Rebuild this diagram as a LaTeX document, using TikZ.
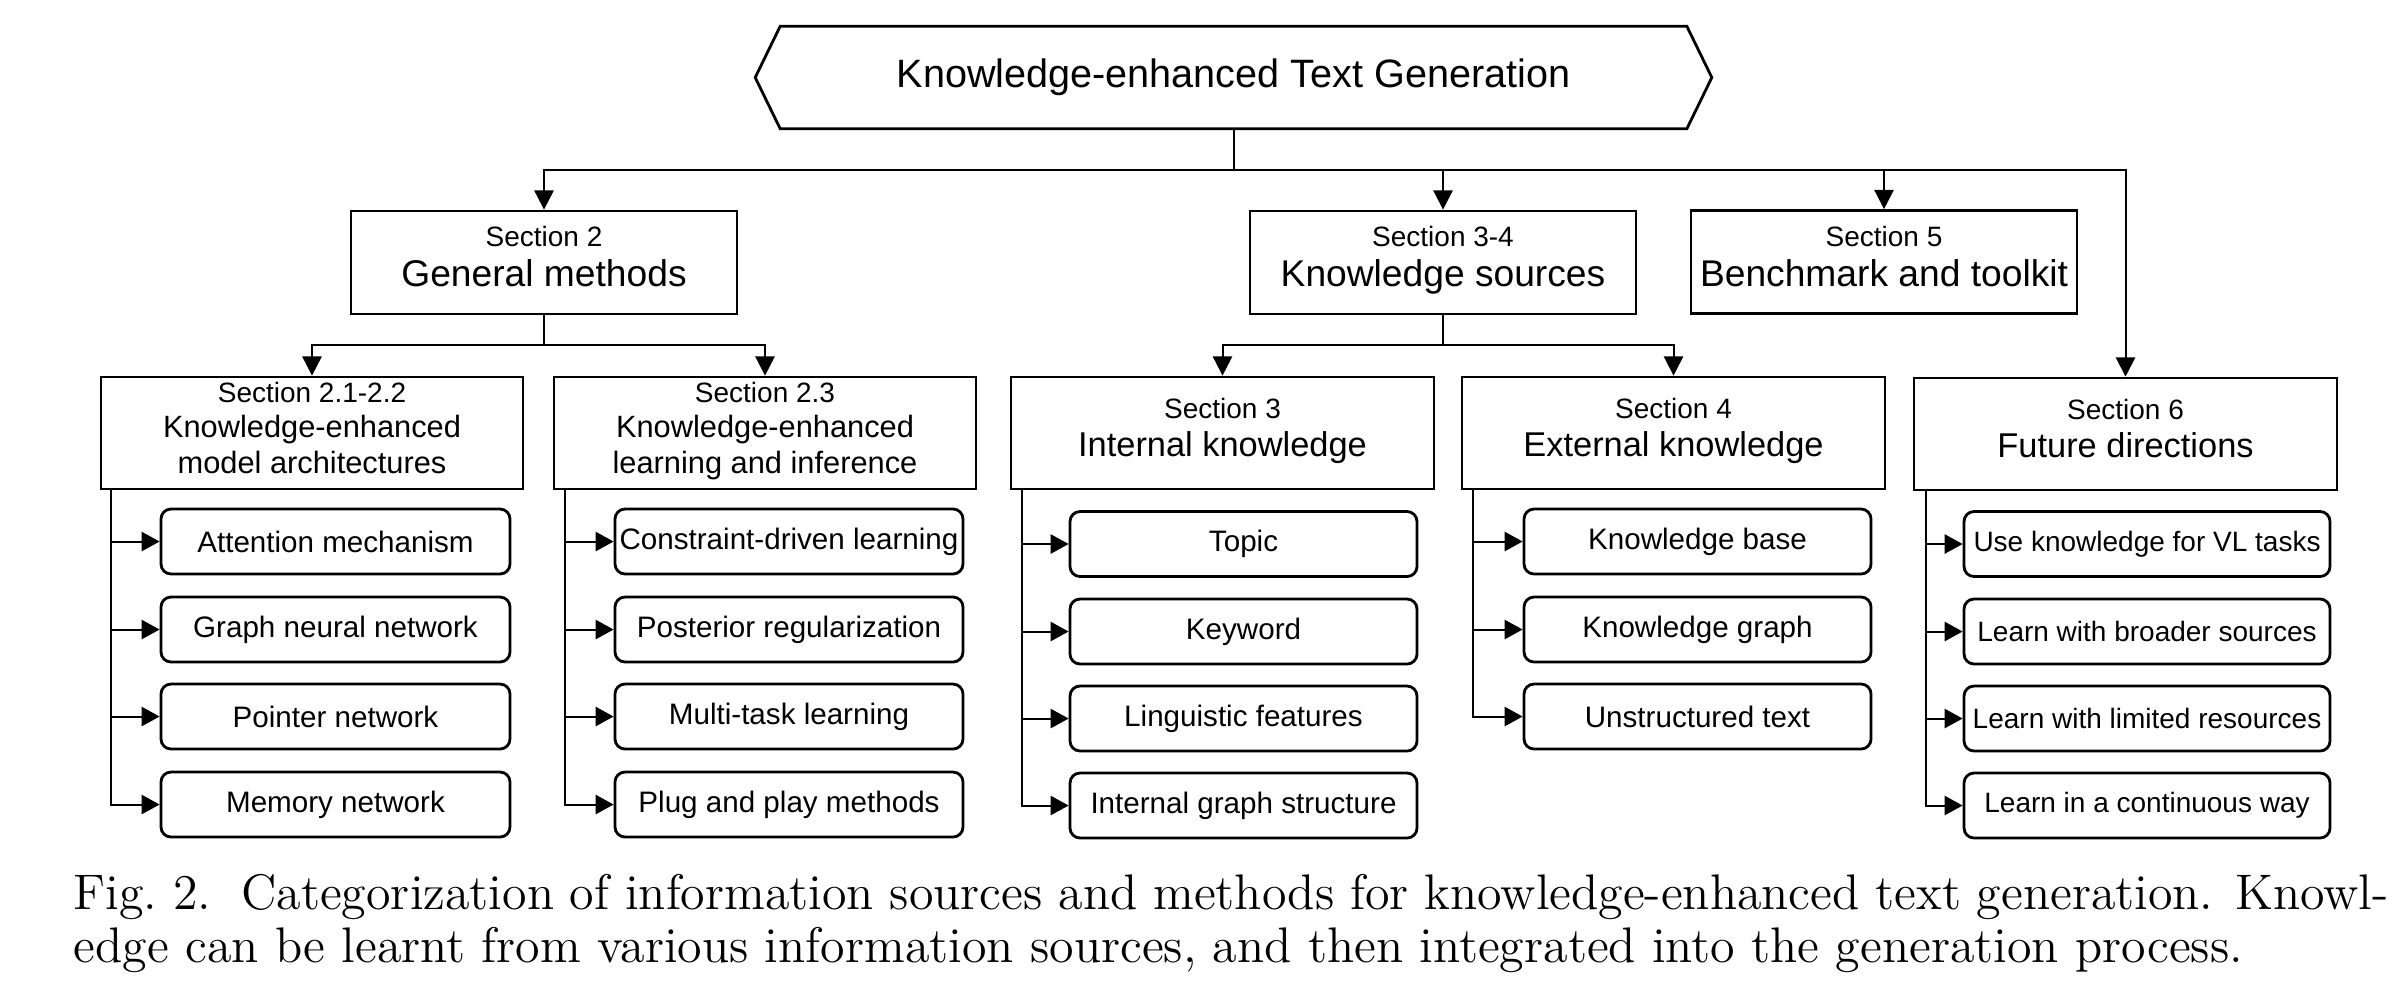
\documentclass[tikz,border=0pt]{standalone}
\usepackage{fontspec}
\setsansfont{Liberation Sans}
\usetikzlibrary{arrows.meta}
\newcommand\secsz{\fontsize{7}{8.8}\selectfont}
\begin{document}
\begin{tikzpicture}[x=0.25pt,y=-0.25pt,
  conn/.style={line width=0.5pt, draw=black},
  arr/.style={conn, -{Triangle[length=4.8pt,width=4.8pt]}},
  leafarr/.style={conn, -{Triangle[length=4.5pt,width=4.8pt]}},
  box/.style={draw, line width=0.7pt, inner sep=0pt, align=center},
  lvlone/.style={box, minimum width=96.5pt, minimum height=25.75pt, font=\sffamily\fontsize{9.3}{10}\selectfont},
  lvltwoa/.style={box, minimum width=105.5pt, minimum height=28pt, font=\sffamily\fontsize{7.7}{8.8}\selectfont},
  lvltwob/.style={box, minimum width=105.75pt, minimum height=28pt, font=\sffamily\fontsize{8.6}{9.4}\selectfont},
  leaf/.style={draw, line width=0.7pt, rounded corners=2.5pt, minimum height=16.25pt, inner sep=0pt, font=\sffamily\fontsize{7.4}{8}\selectfont},
  leafs/.style={leaf, font=\sffamily\fontsize{7}{8}\selectfont}
]
\useasboundingbox (0,0) rectangle (2404,988);

% top hexagon
\node[inner sep=0pt, minimum width=238.75pt, minimum height=25.25pt, font=\sffamily\fontsize{9.9}{11}\selectfont] (top) at (1233.5,77.5) {Knowledge-enhanced Text Generation};
\draw[line width=0.7pt] ([xshift=6.25pt]top.north west) -- ([xshift=-6.25pt]top.north east) -- (top.east)
  -- ([xshift=-6.25pt]top.south east) -- ([xshift=6.25pt]top.south west) -- (top.west) -- cycle;

% level 1
\node[lvlone] (S2) at (544,262.5) {{\secsz Section 2}\\General methods\strut};
\node[lvlone] (S34) at (1443,262.5) {{\secsz Section 3-4}\\Knowledge sources\strut};
\node[lvlone] (S5) at (1884,262) {{\secsz Section 5}\\Benchmark and toolkit\strut};

% level 2
\node[lvltwoa] (S21) at (312,433) {{\secsz Section 2.1-2.2}\\Knowledge-enhanced\\model architectures\strut};
\node[lvltwoa] (S23) at (765,433) {{\secsz Section 2.3}\\Knowledge-enhanced\\learning and inference\strut};
\node[lvltwob] (S3) at (1222.5,433) {{\secsz Section 3}\\Internal knowledge\strut};
\node[lvltwob] (S4) at (1673.5,433) {{\secsz Section 4}\\External knowledge\strut};
\node[lvltwob] (S6) at (2125.5,434) {{\secsz Section 6}\\Future directions\strut};

% bus lines
\coordinate (busA) at (0,170);
\coordinate (busB) at (0,345);
\draw[conn] (top.south) -- (top.south |- busA);
\foreach \n in {S2,S34,S5,S6} \draw[arr] (top.south |- busA) -| (\n.north);
\draw[conn] (S2.south) -- (S2.south |- busB);
\foreach \n in {S21,S23} \draw[arr] (S2.south |- busB) -| (\n.north);
\draw[conn] (S34.south) -- (S34.south |- busB);
\foreach \n in {S3,S4} \draw[arr] (S34.south |- busB) -| (\n.north);

% leaves column 1
\node[leaf, minimum width=87.25pt] (a1) at (335.5,541.5) {Attention mechanism};
\node[leaf, minimum width=87.25pt] (a2) at (335.5,629.5) {Graph neural network};
\node[leaf, minimum width=87.25pt] (a3) at (335.5,716.5) {Pointer network};
\node[leaf, minimum width=87.25pt] (a4) at (335.5,804.5) {Memory network};
% column 2
\node[leaf, minimum width=87pt] (b1) at (789,541.5) {Constraint-driven learning};
\node[leaf, minimum width=87pt] (b2) at (789,629.5) {Posterior regularization};
\node[leaf, minimum width=87pt] (b3) at (789,716.5) {Multi-task learning};
\node[leaf, minimum width=87pt] (b4) at (789,804.5) {Plug and play methods};
% column 3
\node[leaf, minimum width=86.75pt] (c1) at (1243.5,544) {Topic};
\node[leaf, minimum width=86.75pt] (c2) at (1243.5,631.5) {Keyword};
\node[leaf, minimum width=86.75pt] (c3) at (1243.5,718.5) {Linguistic features};
\node[leaf, minimum width=86.75pt] (c4) at (1243.5,805.5) {Internal graph structure};
% column 4
\node[leaf, minimum width=86.75pt] (d1) at (1697.5,541.5) {Knowledge base};
\node[leaf, minimum width=86.75pt] (d2) at (1697.5,629.5) {Knowledge graph};
\node[leaf, minimum width=86.75pt] (d3) at (1697.5,716.5) {Unstructured text};
% column 5
\node[leafs, minimum width=91.5pt] (e1) at (2147,544) {Use knowledge for VL tasks};
\node[leafs, minimum width=91.5pt] (e2) at (2147,631.5) {Learn with broader sources};
\node[leafs, minimum width=91.5pt] (e3) at (2147,718.5) {Learn with limited resources};
\node[leafs, minimum width=91.5pt] (e4) at (2147,805.5) {Learn in a continuous way};

% trunks
\coordinate (t1) at (111,0);
\coordinate (t2) at (565,0);
\coordinate (t3) at (1022,0);
\coordinate (t4) at (1473,0);
\coordinate (t5) at (1926,0);
\foreach \n in {a1,a2,a3,a4} \draw[leafarr] (S21.south -| t1) |- (\n.west);
\foreach \n in {b1,b2,b3,b4} \draw[leafarr] (S23.south -| t2) |- (\n.west);
\foreach \n in {c1,c2,c3,c4} \draw[leafarr] (S3.south -| t3) |- (\n.west);
\foreach \n in {d1,d2,d3} \draw[leafarr] (S4.south -| t4) |- (\n.west);
\foreach \n in {e1,e2,e3,e4} \draw[leafarr] (S6.south -| t5) |- (\n.west);

% caption
\node[anchor=north west, inner sep=0pt, align=left, font=\rmfamily\fontsize{12.5}{13.25}\selectfont] (cap) at (73,873)
 {\hbox to 578.75pt{Fig.~2.\hspace{0.6em}Categorization of information sources and methods for knowledge-enhanced text generation. Knowl-}\\
  edge can be learnt from various information sources, and then integrated into the generation process.};
\end{tikzpicture}
\end{document}
